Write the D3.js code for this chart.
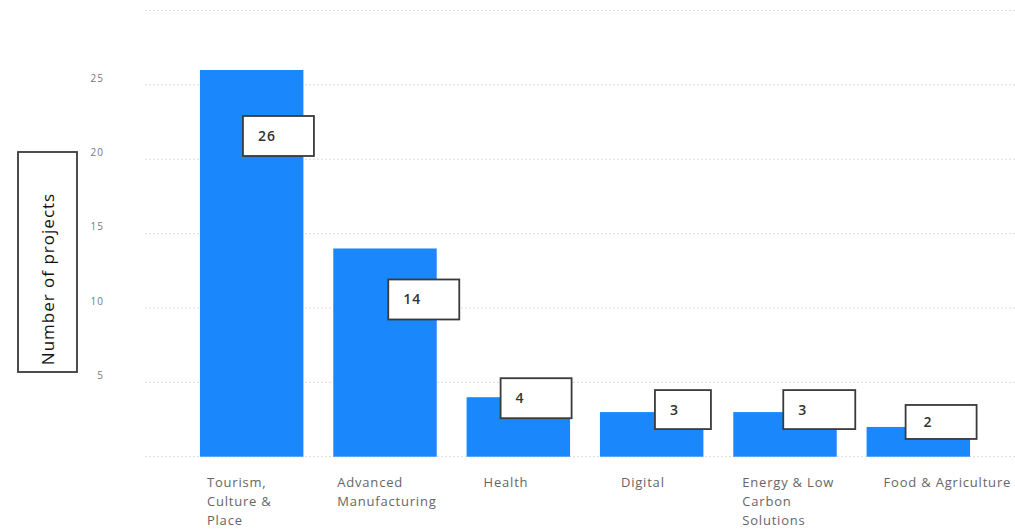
<!DOCTYPE html>
<html>
<head>
<meta charset="utf-8">
<script src="https://cdn.jsdelivr.net/npm/d3@7"></script>
<style>
  html, body { margin: 0; padding: 0; background: #fff; }
  svg { display: block; }
</style>
</head>
<body>
<svg id="chart" width="1015" height="531"></svg>
<script>
// Projects per sector
const categories = [
  ["Tourism,", "Culture &", "Place"],
  ["Advanced", "Manufacturing"],
  ["Health"],
  ["Digital"],
  ["Energy & Low", "Carbon", "Solutions"],
  ["Food & Agriculture"]
];
const projects = [26, 14, 4, 3, 3, 2];
const yTicks = [5, 10, 15, 20, 25];
const yGrid = [0, 5, 10, 15, 20, 25, 30];
const yTitle = "Number of projects";

// Callout placement per bar: offset of the box from the bar's top-left corner, and box size
const callouts = [
  { dx: 43, dy: 46,  w: 71, h: 40 },
  { dx: 55, dy: 31,  w: 71, h: 40 },
  { dx: 34, dy: -19, w: 71, h: 40 },
  { dx: 55, dy: -22, w: 56, h: 39 },
  { dx: 50, dy: -22, w: 72, h: 39 },
  { dx: 39, dy: -22, w: 71, h: 34 }
];
// Horizontal shift of each category label from its bar's left edge
const labelShift = [7, 4, 17, 21, 9, 17];

const svg = d3.select("#chart");
const font = "'Open Sans', 'Noto Sans', sans-serif";

const x = d3.scaleBand()
  .domain(d3.range(categories.length))
  .range([185, 985])
  .paddingInner(0.224)
  .paddingOuter(0.112);

const y = d3.scaleLinear().domain([0, 30]).range([456.7, 10.5]);

// Dotted gridlines
svg.append("g")
  .selectAll("line")
  .data(yGrid)
  .join("line")
  .attr("x1", 145)
  .attr("x2", 1015)
  .attr("y1", d => y(d))
  .attr("y2", d => y(d))
  .attr("stroke", "#dcdcdc")
  .attr("stroke-width", 1)
  .attr("stroke-dasharray", "2,2");

// Y tick labels, sitting just above their gridlines
const yAxis = d3.axisLeft(y).tickValues(yTicks).tickSize(0).tickPadding(0);
const gy = svg.append("g")
  .attr("transform", "translate(104,-7)")
  .call(yAxis);
gy.select(".domain").remove();
gy.selectAll("text")
  .attr("fill", "#777")
  .style("font-family", font)
  .style("font-size", "10px")
  .style("letter-spacing", "1px");

// Bars
svg.append("g")
  .selectAll("rect")
  .data(projects)
  .join("rect")
  .attr("x", (d, i) => x(i))
  .attr("y", d => y(d))
  .attr("width", x.bandwidth())
  .attr("height", d => y(0) - y(d))
  .attr("fill", "#1a88fc");

// Value callouts
const cg = svg.append("g")
  .selectAll("g")
  .data(projects)
  .join("g")
  .attr("transform", (d, i) => `translate(${x(i) + callouts[i].dx},${y(d) + callouts[i].dy})`);
cg.append("rect")
  .attr("width", (d, i) => callouts[i].w)
  .attr("height", (d, i) => callouts[i].h)
  .attr("fill", "#fff")
  .attr("stroke", "#3a3a3a")
  .attr("stroke-width", 1.8);
cg.append("text")
  .attr("x", (d, i) => i === 5 ? 18 : 15)
  .attr("y", (d, i) => callouts[i].h / 2 + 5)
  .attr("fill", "#333")
  .style("font-family", font)
  .style("font-size", "14px")
  .style("font-weight", "600")
  .style("letter-spacing", "1px")
  .text(d => d);

// Category labels
const lg = svg.append("g")
  .selectAll("text")
  .data(categories)
  .join("text")
  .attr("x", (d, i) => x(i) + labelShift[i])
  .attr("y", 487)
  .attr("fill", "#666")
  .style("font-family", font)
  .style("font-size", "13px")
  .style("letter-spacing", "0.8px");
lg.selectAll("tspan")
  .data(d => d)
  .join("tspan")
  .attr("x", function () { return d3.select(this.parentNode).attr("x"); })
  .attr("dy", (d, j) => j === 0 ? 0 : 19)
  .text(d => d);

// Boxed axis title
svg.append("rect")
  .attr("x", 18).attr("y", 152)
  .attr("width", 59).attr("height", 220)
  .attr("fill", "#fff")
  .attr("stroke", "#3a3a3a")
  .attr("stroke-width", 1.8);
svg.append("text")
  .attr("transform", "translate(54,279) rotate(-90)")
  .attr("text-anchor", "middle")
  .attr("fill", "#111")
  .style("font-family", font)
  .style("font-size", "17px")
  .style("letter-spacing", "1px")
  .text(yTitle);
</script>
</body>
</html>
